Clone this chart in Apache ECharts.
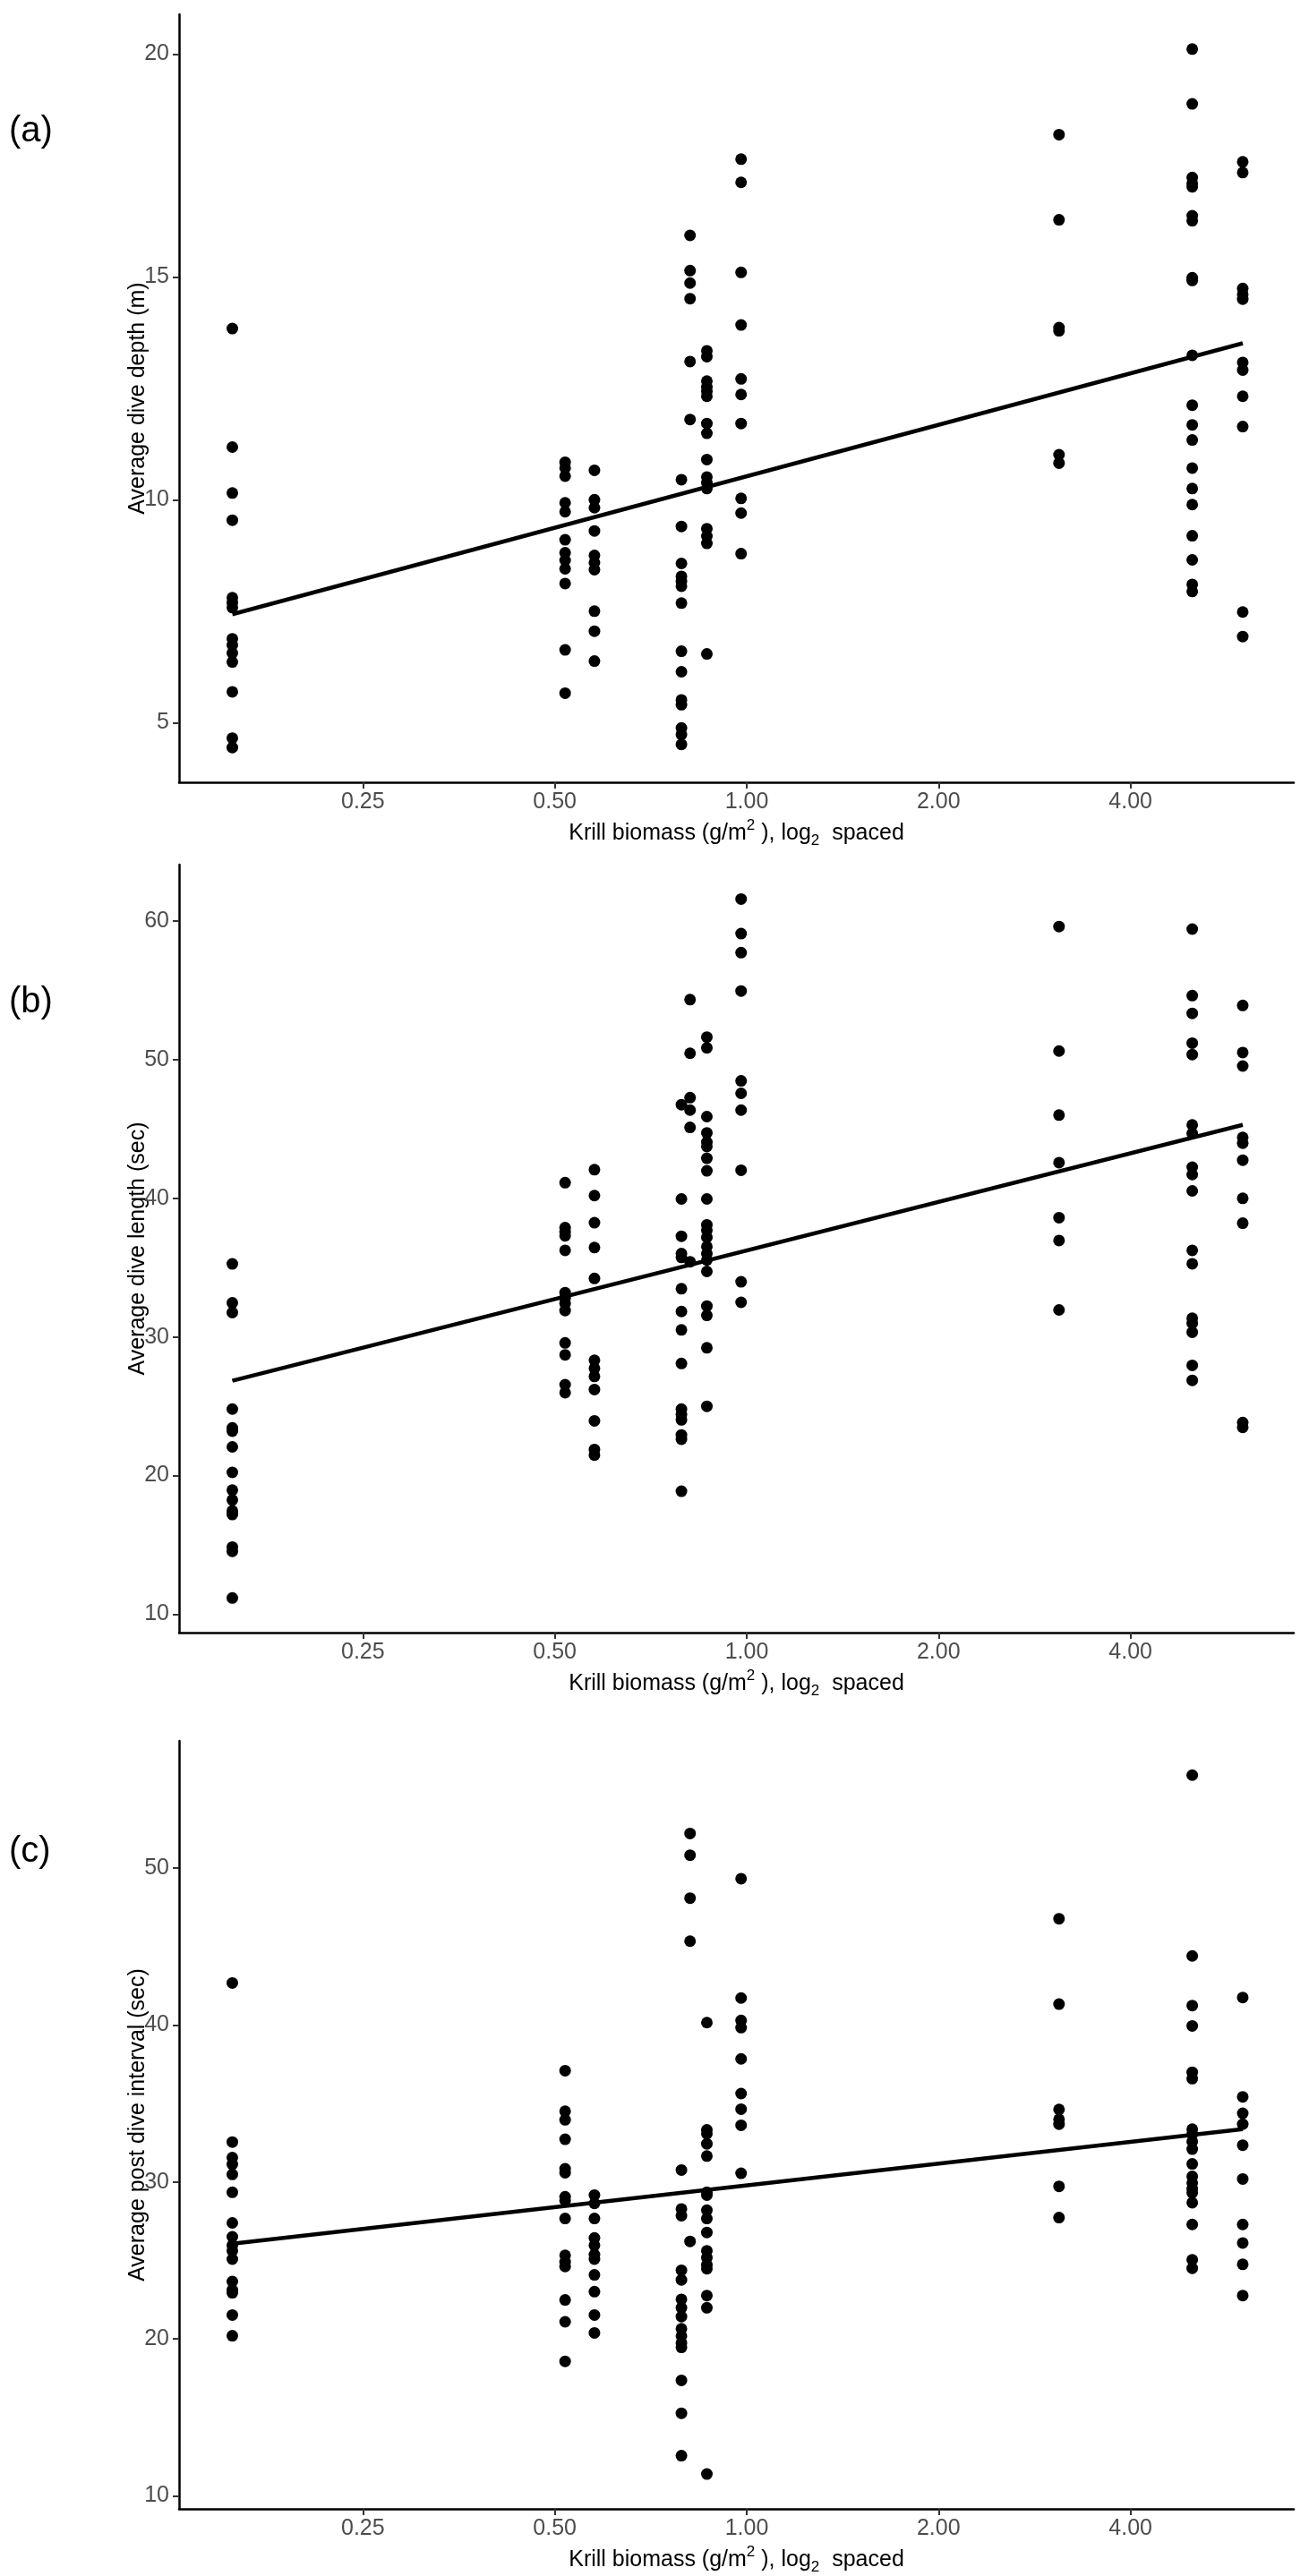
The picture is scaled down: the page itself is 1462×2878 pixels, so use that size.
<!DOCTYPE html>
<html>
<head>
<meta charset="utf-8">
<title>Krill biomass vs dive behaviour</title>
<script src="https://cdn.jsdelivr.net/npm/echarts@6/dist/echarts.min.js"></script>
<style>
  html, body { margin: 0; padding: 0; background: #fff; }
  #chart { width: 1462px; height: 2878px; }
</style>
</head>
<body>
<div id="chart"></div>
<script>
// krill biomass at each site (g/m2), one column of points per site
const biomass = [0.156, 0.519, 0.577, 0.79, 0.815, 0.866, 0.98, 3.09, 5.0, 6.0]
const xTicks = [0.25, 0.5, 1, 2, 4]

// (a) average dive depth (m), per site
const diveDepth = [
  [13.84, 11.18, 10.15, 9.54, 7.80, 7.69, 7.58, 6.88, 6.74, 6.56, 6.36, 5.69, 4.65, 4.44],
  [10.84, 10.71, 10.53, 9.93, 9.73, 9.10, 8.81, 8.64, 8.45, 8.12, 6.63, 5.66],
  [10.66, 10.0, 9.82, 9.30, 8.75, 8.59, 8.43, 7.50, 7.05, 6.38],
  [10.45, 9.40, 8.57, 8.28, 8.17, 8.06, 7.68, 6.60, 6.14, 5.51, 5.40, 4.88, 4.73, 4.51],
  [15.93, 15.14, 14.86, 14.51, 13.10, 11.80],
  [13.34, 13.21, 12.66, 12.53, 12.43, 12.32, 11.71, 11.49, 10.90, 10.51, 10.38, 10.25, 9.35, 9.18, 9.02, 6.54],
  [17.64, 17.12, 15.10, 13.92, 12.71, 12.36, 11.71, 10.03, 9.70, 8.79],
  [18.19, 16.28, 13.86, 13.79, 11.01, 10.82],
  [20.11, 18.88, 17.23, 17.10, 17.02, 16.37, 16.26, 14.98, 14.92, 13.24, 12.12, 11.68, 11.34, 10.71, 10.25, 9.89, 9.19, 8.65, 8.10, 7.94],
  [17.58, 17.34, 14.74, 14.61, 14.50, 13.08, 12.91, 12.32, 11.64, 7.48, 6.93]
]
const depthTicks = [5, 10, 15, 20]
const depthFit = [7.43, 13.51] // fitted line at first and last site

// (b) average dive length (sec)
const diveLength = [
  [35.27, 32.46, 31.76, 24.80, 23.44, 23.20, 22.07, 20.23, 18.95, 18.24, 17.46, 17.19, 14.84, 14.53, 11.17],
  [41.13, 37.89, 37.58, 37.30, 36.25, 33.20, 32.81, 32.42, 31.91, 29.57, 28.71, 26.56, 25.98],
  [42.07, 40.20, 38.24, 36.45, 34.22, 28.32, 27.73, 27.15, 26.21, 23.95, 21.88, 21.48],
  [46.76, 39.96, 37.27, 36.02, 35.74, 33.48, 31.84, 30.51, 28.09, 24.80, 24.41, 24.02, 22.93, 22.62, 18.87],
  [54.34, 50.47, 47.27, 46.37, 45.12, 35.43],
  [51.64, 50.86, 45.90, 44.73, 44.06, 43.75, 42.89, 41.99, 39.96, 38.09, 37.70, 37.19, 36.52, 36.02, 35.55, 34.73, 32.23, 31.56, 29.22, 25.00],
  [61.60, 59.10, 57.73, 54.96, 48.48, 47.58, 46.37, 42.03, 33.98, 32.50],
  [59.61, 50.63, 46.01, 42.58, 38.61, 36.96, 31.95],
  [59.43, 54.63, 53.35, 51.20, 50.38, 45.30, 44.69, 42.25, 41.72, 40.54, 36.25, 35.28, 31.35, 30.99, 30.34, 27.95, 26.87],
  [53.92, 50.52, 49.55, 44.40, 43.98, 42.76, 40.00, 38.21, 23.83, 23.48]
]
const lengthTicks = [10, 20, 30, 40, 50, 60]
const lengthFit = [26.84, 45.30]

// (c) average post dive interval (sec)
const postDive = [
  [42.68, 32.54, 31.55, 31.12, 30.48, 29.34, 27.39, 26.50, 25.96, 25.61, 25.08, 23.65, 23.12, 22.94, 21.52, 20.20],
  [37.09, 34.50, 33.96, 32.72, 30.84, 30.59, 29.06, 28.81, 27.67, 25.32, 24.90, 24.61, 22.48, 21.09, 18.57],
  [29.16, 28.63, 27.67, 26.43, 25.96, 25.36, 25.08, 24.08, 23.01, 21.52, 20.38],
  [30.76, 28.28, 27.85, 24.37, 23.76, 22.52, 21.98, 21.42, 20.64, 20.18, 19.74, 19.46, 17.36, 15.26, 12.56],
  [52.20, 50.82, 48.08, 45.34, 26.21],
  [40.15, 33.32, 33.07, 32.43, 31.65, 29.34, 29.16, 28.20, 27.67, 26.78, 25.61, 25.18, 24.72, 24.47, 22.76, 21.98, 11.39],
  [49.32, 41.72, 40.29, 39.83, 37.84, 35.63, 34.64, 33.61, 30.55],
  [46.77, 41.33, 34.62, 33.99, 33.68, 29.72, 27.73],
  [55.92, 44.40, 41.24, 39.94, 36.99, 36.58, 33.36, 33.04, 32.57, 32.09, 31.15, 30.35, 29.94, 29.56, 29.31, 28.68, 27.29, 25.04, 24.50],
  [41.75, 35.42, 34.37, 33.68, 32.34, 30.19, 27.29, 26.11, 24.75, 22.76]
]
const intervalTicks = [10, 20, 30, 40, 50]
const intervalFit = [26.07, 33.36]

const FONT = '"Liberation Sans", Arial, Helvetica, sans-serif'

// panels: grid placement, y range, titles
const panels = [
  { tag: '(a)', tagY: 147, top: 16, yMin: 3.66, yMax: 20.89, ticks: depthTicks, values: diveDepth, fit: depthFit, title: 'Average dive depth (m)' },
  { tag: '(b)', tagY: 1120, top: 966, yMin: 8.67, yMax: 64.08, ticks: lengthTicks, values: diveLength, fit: lengthFit, title: 'Average dive length (sec)' },
  { tag: '(c)', tagY: 2069, top: 1945, yMin: 9.17, yMax: 58.1, ticks: intervalTicks, values: postDive, fit: intervalFit, title: 'Average post dive interval (sec)' }
]

// x is on a log2 scale: positions are log2(biomass)
const xTickPos = xTicks.map(v => Math.log2(v))

const grid = []
const xAxis = []
const yAxis = []
const series = []
const graphic = []

panels.forEach((p, i) => {
  grid.push({ left: 200, right: 17, top: p.top, height: 858, containLabel: false })

  xAxis.push({
    type: 'value',
    gridIndex: i,
    min: -2.958,
    max: 2.851,
    axisLine: { show: true, onZero: false, lineStyle: { color: '#000', width: 2.5 } },
    axisTick: { show: true, length: 7, customValues: xTickPos, lineStyle: { color: '#333', width: 2 } },
    axisLabel: {
      customValues: xTickPos,
      formatter: v => Math.pow(2, v).toFixed(2),
      color: '#4d4d4d',
      fontSize: 25,
      fontFamily: FONT,
      margin: 10
    },
    splitLine: { show: false },
    name: '{t|Krill biomass (g/m}{sup|2}{t| ), log}{sub|2}{t|  spaced}',
    nameLocation: 'middle',
    nameGap: 40,
    nameMoveOverlap: false,
    nameTextStyle: {
      rich: {
        t: { fontSize: 25, fontFamily: FONT, color: '#000', lineHeight: 34 },
        sup: { fontSize: 17, fontFamily: FONT, color: '#000', lineHeight: 17, verticalAlign: 'top' },
        sub: { fontSize: 17, fontFamily: FONT, color: '#000', lineHeight: 17, verticalAlign: 'bottom' }
      }
    }
  })

  yAxis.push({
    type: 'value',
    gridIndex: i,
    min: p.yMin,
    max: p.yMax,
    axisLine: { show: true, onZero: false, lineStyle: { color: '#000', width: 2.5 } },
    axisTick: { show: true, length: 7, customValues: p.ticks, lineStyle: { color: '#333', width: 2 } },
    axisLabel: {
      customValues: p.ticks,
      color: '#4d4d4d',
      fontSize: 25,
      fontFamily: FONT,
      margin: 11
    },
    splitLine: { show: false },
    name: p.title,
    nameLocation: 'middle',
    nameRotate: 90,
    nameGap: 33,
    nameMoveOverlap: false,
    nameTextStyle: { fontSize: 25, fontFamily: FONT, color: '#000' }
  })

  const pts = []
  p.values.forEach((col, j) => {
    col.forEach(v => pts.push([Math.log2(biomass[j]), v]))
  })
  series.push({
    type: 'scatter',
    xAxisIndex: i,
    yAxisIndex: i,
    symbolSize: 13,
    itemStyle: { color: '#000', opacity: 1 },
    data: pts,
    z: 2
  })

  // linear fit, drawn between first and last site
  series.push({
    type: 'line',
    xAxisIndex: i,
    yAxisIndex: i,
    showSymbol: false,
    symbol: 'none',
    lineStyle: { color: '#000', width: 4.5 },
    data: [
      [Math.log2(biomass[0]), p.fit[0]],
      [Math.log2(biomass[biomass.length - 1]), p.fit[1]]
    ],
    z: 3
  })

  graphic.push({
    type: 'text',
    x: 10,
    y: p.tagY,
    style: { text: p.tag, fill: '#000', fontSize: 40, fontFamily: FONT, verticalAlign: 'middle' }
  })
})

const chart = echarts.init(document.getElementById('chart'), null, { renderer: 'canvas' })
chart.setOption({
  animation: false,
  backgroundColor: '#fff',
  grid,
  xAxis,
  yAxis,
  series,
  graphic
})
</script>
</body>
</html>
